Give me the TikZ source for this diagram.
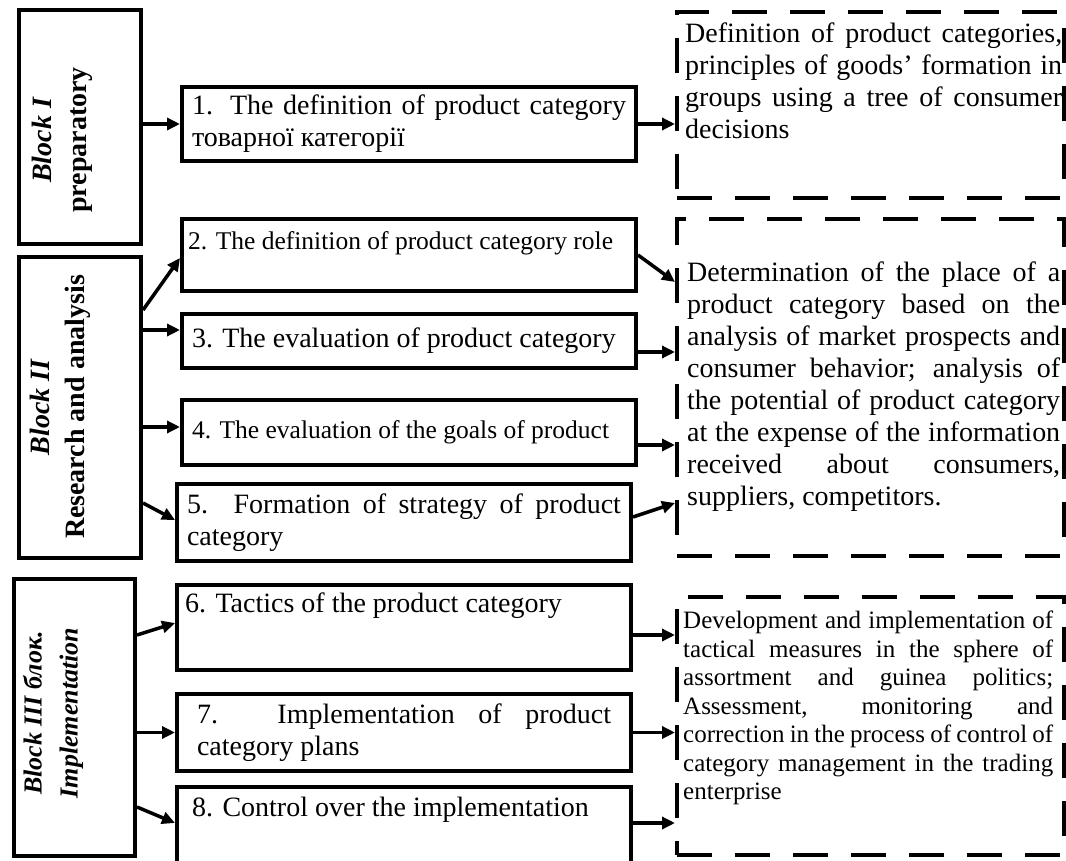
\documentclass[tikz,border=0pt]{standalone}
\usepackage{fontspec}
\setmainfont{Liberation Serif}
\usetikzlibrary{arrows.meta,positioning}

\tikzset{
  block/.style={draw, line width=4pt, anchor=north west, minimum width=122pt},
  stage/.style={draw, line width=4pt, anchor=north west, minimum width=454pt,
    inner xsep=10pt, text width=434pt, align=justify, font=\fontsize{28}{32}\selectfont},
  stagetext/.style={anchor=north west, inner sep=0pt, font=\fontsize{28}{32}\selectfont},
  result/.style={draw, line width=4pt, dash pattern=on 35pt off 23pt, anchor=north west,
    minimum width=387pt},
  restext/.style={anchor=north west, inner sep=0pt, align=justify, font=\fontsize{28}{32}\selectfont},
  blocktitle/.style={rotate=90, align=center, font=\bfseries\fontsize{28}{35}\selectfont},
  arr/.style={line width=3.5pt, -{Triangle[length=13pt,width=12pt]}},
}

\begin{document}
\begin{tikzpicture}[x=1pt, y=-1pt]
    \useasboundingbox (0,0) rectangle (1066,861);
    \clip (0,0) rectangle (1066,861);

    % blocks on the left
    \node[block, minimum height=234pt] (blk1) at (17,8) {};
    \node[block, minimum height=301pt] (blk2) at (17,255) {};
    \node[block, minimum height=277pt, minimum width=121pt] (blk3) at (12,577) {};
    \node[blocktitle] (ttl1) at (62,140) {\textit{Block I}\\preparatory};
    \node[blocktitle] (ttl2) at (60,407) {\textit{Block II}\\Research and analysis};
    \node[blocktitle, font=\bfseries\itshape\fontsize{26}{36}\selectfont] (ttl3) at (53,713)
        {Block III блок.\\Implementation};

    % stages
    \node[stage, minimum height=74pt] (box1) at (180,85)
        {1. The definition of product category\linebreak товарної категорії};
    \node[stage, minimum height=72pt, minimum width=452pt] (box2) at (180,217) {};
    \node[stage, minimum height=54pt, minimum width=452pt] (box3) at (180,312)
        {3. The evaluation of product category};
    \node[stage, minimum height=65pt, minimum width=452pt, font=\fontsize{25.5}{32}\selectfont] (box4) at (180,398)
        {4. The evaluation of the goals of product};
    \node[stage, minimum height=77pt] (box5) at (175,482)
        {5. Formation of strategy of product\linebreak category};
    \node[stage, minimum height=85pt] (box6) at (175,583) {};
    \node[stage, minimum height=77pt, inner xsep=20pt, text width=414pt] (box7) at (175,692)
        {7. Implementation of product\linebreak category plans};
    \node[stage, minimum height=90pt] (box8) at (175,785) {};
    \node[stagetext, font=\fontsize{25.5}{32}\selectfont] (txt2) at ([xshift=8pt,yshift=-14pt]box2.north west)
        {2. The definition of product category role};
    \node[stagetext] (txt6) at ([xshift=10pt,yshift=-10pt]box6.north west)
        {6. Tactics of the product category};
    \node[stagetext] (txt8) at ([xshift=17pt,yshift=-12pt]box8.north west)
        {8. Control over the implementation};

    % results
    \node[result, minimum height=186pt] (d1) at (675,10) {};
    \node[result, minimum height=337pt] (d2) at (675,217) {};
    \node[result, minimum height=258pt] (d3) at (675,595) {};
    \node[restext, text width=377pt] (res1) at ([xshift=10pt,yshift=-13pt]d1.north west)
        {Definition of product categories,\linebreak
         principles of goods’ formation in\linebreak
         groups using a tree of consumer\linebreak
         decisions};
    \node[restext, text width=373pt] (res2) at ([xshift=12pt,yshift=-45pt]d2.north west)
        {Determination of the place of a\linebreak
         product category based on the\linebreak
         analysis of market prospects and\linebreak
         consumer behavior; analysis of\linebreak
         the potential of product category\linebreak
         at the expense of the information\linebreak
         received about consumers,\linebreak
         suppliers, competitors.};
    \node[restext, text width=370pt, font=\fontsize{25}{28.5}\selectfont] (res3) at ([xshift=8pt,yshift=-16pt]d3.north west)
        {Development and implementation of\linebreak
         tactical measures in the sphere of\linebreak
         assortment and guinea politics;\linebreak
         Assessment, monitoring and\linebreak
         correction in the process of control of\linebreak
         category management in the trading\linebreak
         enterprise};

    % arrows from blocks
    \draw[arr] (blk1.east |- box1.west) -- (box1.west);
    \draw[arr] ([yshift=-55pt]blk2.north east) -- ([yshift=-3pt]box2.west);
    \draw[arr] ([yshift=-75pt]blk2.north east) -- ([yshift=11pt]box3.west);
    \draw[arr] ([yshift=-172pt]blk2.north east) -- ([yshift=5.5pt]box4.west);
    \draw[arr] ([yshift=-248pt]blk2.north east) -- ([yshift=2.5pt]box5.west);
    \draw[arr] ([yshift=-58pt]blk3.north east) -- ([yshift=4.5pt]box6.west);
    \draw[arr] (blk3.east |- box7.west) -- (box7.west);
    \draw[arr] ([yshift=-230pt]blk3.north east) -- ([yshift=9pt]box8.west);

    % arrows to results
    \draw[arr] (box1.east) -- (box1.east -| d1.west);
    \draw[arr] (box2.east) -- ([yshift=-65pt]d2.north west);
    \draw[arr] ([yshift=-11pt]box3.east) -- ([yshift=-135pt]d2.north west);
    \draw[arr] ([yshift=-12.5pt]box4.east) -- ([yshift=-228pt]d2.north west);
    \draw[arr] ([yshift=5.5pt]box5.east) -- ([yshift=-286pt]d2.north west);
    \draw[arr] ([yshift=-7.5pt]box6.east) -- ([yshift=-40pt]d3.north west);
    \draw[arr] (box7.east) -- (box7.east -| d3.west);
    \draw[arr] ([yshift=9pt]box8.east) -- ([yshift=-228pt]d3.north west);
\end{tikzpicture}
\end{document}
